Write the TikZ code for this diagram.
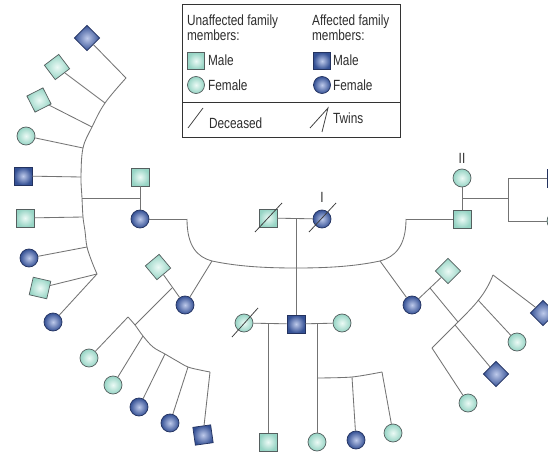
\documentclass[tikz,border=0pt]{standalone}
\usepackage{fontspec}
\setmainfont{Liberation Sans}[FakeStretch=0.8]
\definecolor{unafO}{RGB}{150,212,196}
\definecolor{unafI}{RGB}{236,250,246}
\definecolor{afO}{RGB}{52,80,148}
\definecolor{afI}{RGB}{190,202,235}
\definecolor{lnc}{RGB}{115,115,115}
\definecolor{edgeU}{RGB}{85,95,95}
\definecolor{edgeA}{RGB}{35,50,95}
\definecolor{txt}{RGB}{45,45,45}
\tikzset{
  sym/.style={inner sep=0pt, line width=1pt, minimum size=9mm},
  mU/.style={sym, rectangle, draw=edgeU, inner color=unafI, outer color=unafO},
  fU/.style={sym, circle, draw=edgeU, inner color=unafI, outer color=unafO},
  mA/.style={sym, rectangle, draw=edgeA, inner color=afI, outer color=afO},
  fA/.style={sym, circle, draw=edgeA, inner color=afI, outer color=afO},
  ln/.style={draw=lnc, line width=1.2pt},
  slash/.style={draw=black!75, line width=1.1pt},
  lbl/.style={text=txt, font=\fontsize{21}{25}\selectfont, inner sep=0pt},
}
\begin{document}
\begin{tikzpicture}[x=0.5mm,y=-0.5mm]
\useasboundingbox (0,0) rectangle (548,452);
\clip (0,0) rectangle (548,452);
\fill[white] (0,0) rectangle (548,452);

% ---------- legend ----------
\draw[draw=black!80, line width=1pt] (182,4) rectangle (400,137);
\draw[draw=black!80, line width=1pt] (182,102) -- (400,102);
\node[lbl, anchor=base west] (t1) at (187,26) {Unaffected family};
\node[lbl, anchor=base west] (t2) at (187,41) {members:};
\node[lbl, anchor=base west] (t3) at (312,26) {Affected family};
\node[lbl, anchor=base west] (t4) at (312,41) {members:};
\node[mU, minimum size=8.5mm] (lgmU) at (196,61) {};
\node[lbl, anchor=base west] (t5) at (208,66) {Male};
\node[fU, minimum size=8.5mm] (lgfU) at (196,85) {};
\node[lbl, anchor=base west] (t6) at (208,91) {Female};
\node[mA, minimum size=8.5mm] (lgmA) at (322,61) {};
\node[lbl, anchor=base west] (t7) at (333,66) {Male};
\node[fA, minimum size=8.5mm] (lgfA) at (322,85) {};
\node[lbl, anchor=base west] (t8) at (333,91) {Female};
\coordinate (dsA) at (188,128); \coordinate (dsB) at (203,108);
\draw[slash] (dsA) -- (dsB);
\node[lbl, anchor=base west] (t9) at (209,128) {Deceased};
\coordinate (twA) at (310,128); \coordinate (twT) at (328,108); \coordinate (twB) at (322,132);
\draw[slash] (twA) -- (twT) -- (twB);
\node[lbl, anchor=base west] (t10) at (333,123) {Twins};

% ---------- generation I ----------
\node[mU] (g1m) at (268,218) {};
\node[fA] (g1f) at (322,219) {};
\draw[slash] ([shift={(-13,14)}]g1m.center) -- ([shift={(14,-15)}]g1m.center);
\draw[slash] ([shift={(-13,13)}]g1f.center) -- ([shift={(14,-16)}]g1f.center);
\node[lbl, anchor=base] (lI) at (322,202) {I};
\draw[ln] (g1m) -- (g1f);
\coordinate (g1d) at (296,218);

% big sibship line
\coordinate (s1) at (187,219);
\coordinate (s2) at (212,261);
\coordinate (s3) at (296,268);
\coordinate (s4) at (380,261);
\coordinate (s5) at (406,219);
\draw[ln] (s1) .. controls (187,246) and (197,257) .. (s2)
  .. controls (240,267) and (270,268) .. (s3)
  .. controls (322,268) and (352,267) .. (s4)
  .. controls (395,257) and (406,246) .. (s5);

\node[fA] (c1) at (140,219) {};
\node[fA] (c2) at (185,305) {};
\node[mA] (c3) at (296,324) {};
\node[fA] (c4) at (412,305) {};
\node[mU] (c5) at (462,219) {};
\draw[ln] (c1) -- (s1);
\draw[ln] (s2) -- (c2);
\draw[ln] (g1d) -- (c3);
\draw[ln] (s4) -- (c4);
\draw[ln] (c5) -- (s5);

% ---------- left family (generation II) ----------
\node[mU] (lm) at (140,177) {};
\draw[ln] (lm) -- (c1);
\coordinate (ld) at (140,198);
\coordinate (la1) at (126,78);
\coordinate (la2) at (105,103);
\coordinate (la3) at (92,127);
\coordinate (la4) at (83,148);
\coordinate (la5) at (81,177);
\coordinate (la6) at (82,198);
\coordinate (la7) at (83,217);
\coordinate (la8) at (87,247);
\coordinate (la9) at (97,274);
\draw[ln] (ld) -- (la6);
\draw[ln] plot[smooth, tension=0.6] coordinates {(la1) (la2) (la3) (la4) (la5) (la6) (la7) (85,231) (la8) (92,262) (la9)};
\node[mA, rotate=45] (k1) at (87,38) {};
\node[mU, rotate=37] (k2) at (57,67) {};
\node[mU, rotate=27] (k3) at (39,100) {};
\node[fU] (k4) at (26,136) {};
\node[mA] (k5) at (23,176) {};
\node[mU] (k6) at (25,218) {};
\node[fA] (k7) at (29,258) {};
\node[mU, rotate=-13] (k8) at (40,288) {};
\node[fA] (k9) at (53,322) {};
\draw[ln] (k1) -- (la1);
\draw[ln] (k2) -- (la2);
\draw[ln] (k3) -- (la3);
\draw[ln] (k4) -- (la4);
\draw[ln] (k5) -- (la5);
\draw[ln] (k6) -- (la7);
\draw[ln] (k7) -- (la8);
\draw[ln] (k8) -- (la9);
\draw[ln] (k9) -- (la9);

% ---------- right family (generation II) ----------
\node[fU] (rw) at (462,178) {};
\node[lbl, anchor=base] (lII) at (462,163) {II};
\draw[ln] (rw) -- (c5);
\coordinate (rd) at (462,198);
\coordinate (rb) at (508,198);
\coordinate (rt) at (508,178);
\coordinate (rbt) at (508,221);
\draw[ln] (rd) -- (rb);
\draw[ln] (rt) -- (rbt);
\node[mA] (r1) at (556,178) {};
\node[fU] (r2) at (556,221) {};
\draw[ln] (rt) -- (r1);
\draw[ln] (rbt) -- (r2);

% ---------- left family (generation III) ----------
\node[mU, rotate=40] (lh) at (158,267) {};
\draw[ln] (lh) -- (c2);
\coordinate (lfd) at (172,288);
\coordinate (lb0) at (128,317);
\coordinate (lbd) at (135,325);
\coordinate (lb2) at (143,336);
\coordinate (lb3) at (165,354);
\coordinate (lb4) at (188,367);
\coordinate (lb5) at (210,372);
\draw[ln] (lfd) -- (lbd);
\draw[ln] plot[smooth, tension=0.6] coordinates {(lb0) (lbd) (lb2) (153,347) (lb3) (177,361) (lb4) (200,370) (lb5)};
\node[fU] (q1) at (89,358) {};
\node[fU] (q2) at (113,385) {};
\node[fA] (q3) at (139,407) {};
\node[fA] (q4) at (170,423) {};
\node[mA, rotate=8] (q5) at (203,435) {};
\draw[ln] (lb0) -- (q1);
\draw[ln] (lb2) -- (q2);
\draw[ln] (lb3) -- (q3);
\draw[ln] (lb4) -- (q4);
\draw[ln] (lb5) -- (q5);

% ---------- central family (generation III) ----------
\node[fU] (cw) at (244,323) {};
\node[fU] (cw2) at (342,323) {};
\draw[slash] ([shift={(-12,14)}]cw.center) -- ([shift={(14,-15)}]cw.center);
\draw[ln] (cw) -- (c3);
\draw[ln] (c3) -- (cw2);
\coordinate (cd1) at (268,323);
\coordinate (cd2) at (317,323);
\coordinate (cj) at (317,378);
\coordinate (cj2) at (352,377);
\coordinate (cj3) at (382,372);
\node[mU] (h1) at (268,442) {};
\node[fU] (h2) at (317,442) {};
\node[fA] (h3) at (356,440) {};
\node[fU] (h4) at (393,433) {};
\draw[ln] (cd1) -- (h1);
\draw[ln] (cd2) -- (h2);
\draw[ln] plot[smooth] coordinates {(cj) (cj2) (cj3)};
\draw[ln] (cj2) -- (h3);
\draw[ln] (cj3) -- (h4);

% ---------- right family (generation III) ----------
\node[mU, rotate=45] (rh) at (448,271) {};
\draw[ln] (c4) -- (rh);
\coordinate (rfd) at (430,288);
\coordinate (ra0) at (493,275);
\coordinate (ra1) at (478,300);
\coordinate (ra2) at (458,322);
\coordinate (ra3) at (455,325);
\coordinate (ra4) at (432,348);
\draw[ln] (ra0) .. controls (485,295) and (475,305) .. (ra2) -- (ra4);
\draw[ln] (rfd) -- (ra2);
\node[mA, rotate=45] (j1) at (543,313) {};
\node[fU] (j2) at (517,342) {};
\node[mA, rotate=45] (j3) at (496,374) {};
\node[fU] (j4) at (468,403) {};
\draw[ln] (ra0) -- (j1);
\draw[ln] (ra1) -- (j2);
\draw[ln] (ra3) -- (j3);
\draw[ln] (ra4) -- (j4);
\end{tikzpicture}
\end{document}
